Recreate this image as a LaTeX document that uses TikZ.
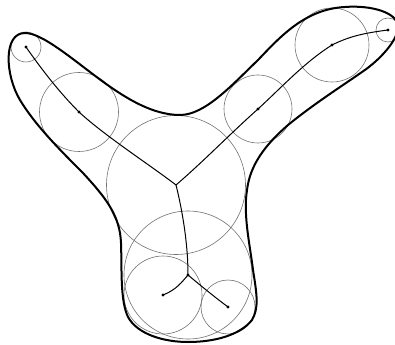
\documentclass[tikz,border=0pt]{standalone}
\tikzset{
  outline/.style={draw=black,line width=1.5pt,line join=round},
  disc/.style={draw=black!55,line width=0.45pt},
  skel/.style={draw=black,line width=0.75pt,line cap=round},
  joint/.style={fill=black}
}
\begin{document}
\begin{tikzpicture}[x=0.75pt,y=-0.75pt]
\useasboundingbox (0,0) rectangle (395,345);
\fill[white] (0,0) rectangle (395,345);
\coordinate (a) at (26,47);
\coordinate (b) at (79,112);
\coordinate (c) at (176,185);
\coordinate (d) at (258,109);
\coordinate (e) at (332,45);
\coordinate (f) at (388,30);
\coordinate (g) at (188,275);
\coordinate (h) at (163,295);
\coordinate (i) at (228,307);
\draw[disc] (a) circle (15);
\draw[disc] (b) circle (39.5);
\draw[disc] (c) circle (69.5);
\draw[disc] (d) circle (34);
\draw[disc] (e) circle (37);
\draw[disc] (f) circle (12);
\draw[disc] (g) circle (64);
\draw[disc] (h) circle (39);
\draw[disc] (i) circle (27);
\begin{scope}
\clip (0,0) rectangle (395,345);
\draw[outline] (25,33)
 .. controls (40,33) and (65,53) .. (90,72)
 .. controls (120,95) and (150,115) .. (180,115)
 .. controls (205,115) and (232,85) .. (258,60)
 .. controls (280,37) and (305,9) .. (345,7)
 .. controls (370,5) and (398,12) .. (398,27)
 .. controls (398,40) and (380,60) .. (362,72)
 .. controls (345,84) and (315,103) .. (288,125)
 .. controls (265,145) and (250,165) .. (247,190)
 .. controls (243,215) and (250,245) .. (253,270)
 .. controls (257,295) and (259,308) .. (252,320)
 .. controls (240,335) and (215,342) .. (188,342)
 .. controls (165,342) and (138,335) .. (128,317)
 .. controls (120,300) and (122,270) .. (121,243)
 .. controls (120,215) and (105,197) .. (83,173)
 .. controls (60,150) and (35,125) .. (20,100)
 .. controls (5,75) and (3,33) .. (25,33) -- cycle;
\end{scope}
\draw[skel] (a) .. controls (42,70) and (60,93) .. (b)
 .. controls (105,136) and (150,165) .. (c);
\draw[skel] (c) .. controls (205,160) and (232,132) .. (d)
 .. controls (284,85) and (305,62) .. (e)
 .. controls (350,36) and (365,33) .. (f);
\draw[skel] (c) .. controls (181,205) and (188,240) .. (g);
\draw[skel] (g) .. controls (182,282) and (176,290) .. (h);
\draw[skel] (g) .. controls (200,285) and (212,295) .. (i);
\foreach \p in {a,b,d,e,f,g,h,i} \fill[joint] (\p) circle (1.6);
\end{tikzpicture}
\end{document}
